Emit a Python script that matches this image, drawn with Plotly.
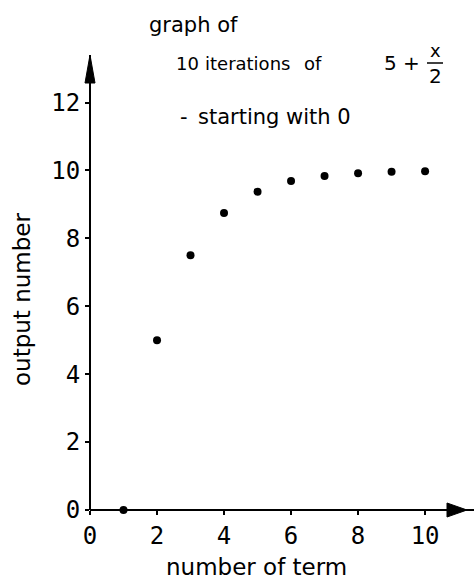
import plotly.graph_objects as go

# Output of each iteration of 5 + x/2, starting from 0
terms = [1, 2, 3, 4, 5, 6, 7, 8, 9, 10]
outputs = [0, 5, 7.5, 8.75, 9.375, 9.69, 9.84, 9.92, 9.96, 9.98]

x_ticks = [0, 2, 4, 6, 8, 10]
y_ticks = [0, 2, 4, 6, 8, 10, 12]

X_MAX = 11.46
Y_MAX = 13.4

TICK_FONT = dict(family="DejaVu Sans Mono", size=24, color="black")
TEXT_FONT = "DejaVu Sans, sans-serif"

fig = go.Figure()

fig.add_trace(go.Scatter(
    x=terms, y=outputs, mode="markers",
    marker=dict(color="black", size=8, symbol="circle"),
    cliponaxis=False, showlegend=False,
))

# Axis lines (paper-referenced so they are not clipped by the plot area)
fig.add_shape(type="line", x0=0, x1=1, y0=0, y1=0,
              xref="paper", yref="paper", line=dict(color="black", width=2))
fig.add_shape(type="line", x0=0, x1=0, y0=0, y1=1,
              xref="paper", yref="paper", line=dict(color="black", width=2))

# Arrowheads (pixel-sized triangles anchored on the axis ends)
fig.add_shape(type="path", xref="paper", yref="paper",
              xsizemode="pixel", ysizemode="pixel", xanchor=0, yanchor=1,
              path="M 0 0 L -5 -28 L 5 -28 Z",
              fillcolor="black", line=dict(color="black", width=1))
fig.add_shape(type="path", xref="paper", yref="paper",
              xsizemode="pixel", ysizemode="pixel", xanchor=1, yanchor=0,
              path="M -7 0 L -27 7 L -27 -7 Z",
              fillcolor="black", line=dict(color="black", width=1))


def px(xp):
    return (xp - 90) / 384


def py(yp):
    return (510 - yp) / 455


def label(text, x, y, size=20, anchor="left"):
    fig.add_annotation(text=text, x=px(x), y=py(y), xref="paper", yref="paper",
                       xanchor=anchor, yanchor="middle", showarrow=False,
                       font=dict(family=TEXT_FONT, size=size, color="black"))


# Title block
label("graph of", 147, 25, size=21)
label("10", 174, 63, size=18)
label("iterations", 203, 63, size=18)
label("of", 302, 63, size=18)
label("5 +", 382, 63, size=20)
label("x", 435, 50, size=18, anchor="center")
label("2", 435, 76, size=20, anchor="center")
fig.add_shape(type="line", xref="paper", yref="paper",
              x0=px(427), x1=px(443), y0=py(63), y1=py(63),
              line=dict(color="black", width=1.5))
label("-", 178, 117, size=21)
label("starting with 0", 196, 117, size=21)

# Axis titles
fig.add_annotation(text="number of term", x=px(256), y=py(567), xref="paper",
                   yref="paper", xanchor="center", yanchor="middle",
                   showarrow=False,
                   font=dict(family=TEXT_FONT, size=23, color="black"))
fig.add_annotation(text="output number", x=px(22), y=py(300), xref="paper",
                   yref="paper", xanchor="center", yanchor="middle",
                   showarrow=False, textangle=-90,
                   font=dict(family=TEXT_FONT, size=23, color="black"))

fig.update_layout(
    width=474, height=580,
    margin=dict(l=90, r=0, t=55, b=70),
    paper_bgcolor="white", plot_bgcolor="white",
    xaxis=dict(
        range=[0, X_MAX], tickvals=x_ticks, ticktext=[str(v) for v in x_ticks],
        showgrid=False, zeroline=False, showline=False,
        ticks="outside", ticklen=4, tickwidth=1.5, tickcolor="black",
        tickfont=TICK_FONT,
    ),
    yaxis=dict(
        range=[0, Y_MAX], tickvals=y_ticks, ticktext=[str(v) for v in y_ticks],
        showgrid=False, zeroline=False, showline=False,
        ticks="outside", ticklen=4, tickwidth=1.5, tickcolor="black",
        tickfont=TICK_FONT,
    ),
)

fig.write_html("out.html")
